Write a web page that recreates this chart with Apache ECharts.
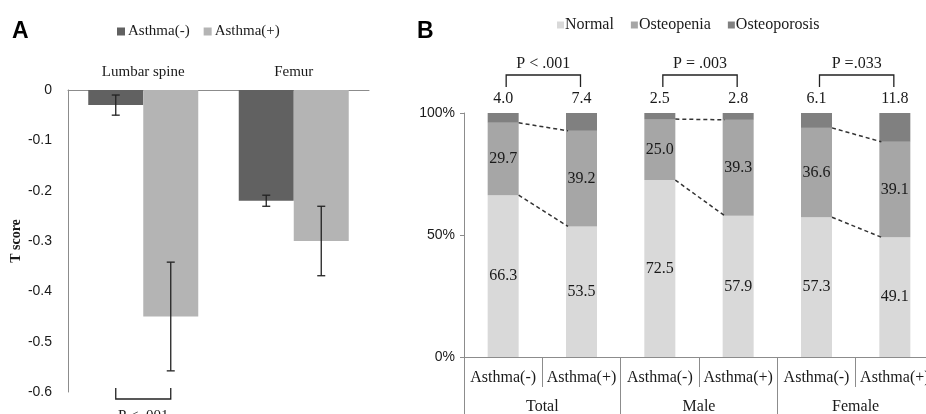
<!DOCTYPE html>
<html>
<head>
<meta charset="utf-8">
<script src="https://cdn.jsdelivr.net/npm/echarts@6/dist/echarts.min.js"></script>
<style>
  html, body { margin: 0; padding: 0; background: #fff; }
  #main { width: 926px; height: 414px; }
</style>
</head>
<body>
<div id="main"></div>
<script>
// ---- panel A: T score by site ----
const sites = ['Lumbar spine', 'Femur']
const tNeg = [-0.03, -0.22]
const tPos = [-0.45, -0.30]
const errNeg = [0.02, 0.011]
const errPos = [0.108, 0.069]
const pSite = 'P < .001'

// ---- panel B: bone status (%) ----
const groups = ['Total', 'Male', 'Female']
const arms = ['Asthma(-)', 'Asthma(+)', 'Asthma(-)', 'Asthma(+)', 'Asthma(-)', 'Asthma(+)']
const normal = [66.3, 53.5, 72.5, 57.9, 57.3, 49.1]
const osteopenia = [29.7, 39.2, 25.0, 39.3, 36.6, 39.1]
const osteoporosis = [4.0, 7.4, 2.5, 2.8, 6.1, 11.8]
const pGroups = ['P < .001', 'P = .003', 'P =.033']

const SERIF = '"Liberation Serif", "DejaVu Serif", serif'
const SANS = '"Liberation Sans", Arial, sans-serif'
const AXIS = '#8c8c8c'
const TXT = '#1a1a1a'
const BAR_W_A = 55
const BAR_W_B = 31

// error bars: [cat, mean, err]
const errDataNeg = sites.map((s, i) => [i, tNeg[i], errNeg[i]])
const errDataPos = sites.map((s, i) => [i, tPos[i], errPos[i]])

function errRender (offset) {
  return function (params, api) {
    const hi = api.coord([api.value(0), api.value(1) + api.value(2)])
    const lo = api.coord([api.value(0), api.value(1) - api.value(2)])
    const x = hi[0] + offset
    const st = { stroke: '#222', lineWidth: 1.3 }
    return {
      type: 'group',
      children: [
        { type: 'line', shape: { x1: x, y1: hi[1], x2: x, y2: lo[1] }, style: st },
        { type: 'line', shape: { x1: x - 4, y1: hi[1], x2: x + 4, y2: hi[1] }, style: st },
        { type: 'line', shape: { x1: x - 4, y1: lo[1], x2: x + 4, y2: lo[1] }, style: st }
      ]
    }
  }
}

// dashed connectors between stacked bars: [catA, catB, levelA, levelB]
const connectors = []
groups.forEach((g, p) => {
  const a = 2 * p
  const b = 2 * p + 1
  connectors.push([a, b, normal[a] + osteopenia[a], normal[b] + osteopenia[b]])
  connectors.push([a, b, normal[a], normal[b]])
})
const brackets = groups.map((g, p) => [2 * p, 2 * p + 1, 100])

const myChart = echarts.init(document.getElementById('main'))
const option = {
  animation: false,
  backgroundColor: '#fff',
  graphic: [
    { type: 'text', left: 12, top: 20, style: { text: 'A', font: 'bold 23px ' + SANS, fill: '#000' } },
    { type: 'text', left: 417, top: 20, style: { text: 'B', font: 'bold 23px ' + SANS, fill: '#000' } }
  ],
  legend: [
    {
      data: ['Asthma(-)', 'Asthma(+)'],
      left: 112,
      top: 19,
      icon: 'rect',
      itemWidth: 8,
      itemHeight: 8,
      itemGap: 14,
      textStyle: { fontFamily: SERIF, fontSize: 15, color: TXT, padding: [0, 0, 0, -2] }
    },
    {
      data: ['Normal', 'Osteopenia', 'Osteoporosis'],
      left: 552,
      top: 12,
      icon: 'rect',
      itemWidth: 7,
      itemHeight: 7,
      itemGap: 17,
      textStyle: { fontFamily: SERIF, fontSize: 16, color: TXT, padding: [0, 0, 0, -4] }
    }
  ],
  grid: [
    { left: 68, top: 90, width: 301, height: 302, outerBoundsMode: 'none' },
    { left: 464, top: 113, width: 470, height: 244, outerBoundsMode: 'none' }
  ],
  xAxis: [
    {
      gridIndex: 0,
      type: 'category',
      position: 'top',
      data: sites,
      axisLine: { lineStyle: { color: AXIS } },
      axisTick: { show: false },
      axisLabel: { margin: 10, fontFamily: SERIF, fontSize: 15, color: TXT }
    },
    {
      gridIndex: 1,
      type: 'category',
      position: 'bottom',
      data: arms,
      axisLine: { show: true, lineStyle: { color: AXIS } },
      axisTick: { show: true, length: 30, interval: 0, alignWithLabel: false, lineStyle: { color: AXIS } },
      axisLabel: { interval: 0, margin: 13, fontFamily: SERIF, fontSize: 16, color: TXT }
    },
    {
      gridIndex: 1,
      type: 'category',
      position: 'bottom',
      offset: 0,
      data: groups,
      axisLine: { show: false },
      axisTick: { show: true, length: 62, interval: 0, alignWithLabel: false, lineStyle: { color: AXIS } },
      axisLabel: { interval: 0, margin: 42, fontFamily: SERIF, fontSize: 16, color: TXT }
    }
  ],
  yAxis: [
    {
      gridIndex: 0,
      type: 'value',
      min: -0.6,
      max: 0,
      interval: 0.1,
      splitLine: { show: false },
      axisTick: { show: false },
      axisLine: { show: true, lineStyle: { color: AXIS } },
      axisLabel: {
        margin: 16,
        fontFamily: SANS,
        fontSize: 14,
        color: TXT,
        formatter: v => (Math.abs(v) < 1e-9 ? '0' : v.toFixed(1))
      },
      name: 'T score',
      nameLocation: 'middle',
      nameGap: 45,
      nameTextStyle: { fontFamily: SERIF, fontSize: 14, fontWeight: 'bold', color: TXT }
    },
    {
      gridIndex: 1,
      type: 'value',
      min: 0,
      max: 100,
      interval: 50,
      splitLine: { show: false },
      axisTick: { show: true, length: 4, lineStyle: { color: AXIS } },
      axisLine: { show: true, lineStyle: { color: AXIS } },
      axisLabel: { margin: 9, fontFamily: SANS, fontSize: 14, color: TXT, formatter: '{value}%' }
    }
  ],
  series: [
    {
      name: 'Asthma(-)',
      type: 'bar',
      xAxisIndex: 0,
      yAxisIndex: 0,
      barWidth: BAR_W_A,
      barGap: '0%',
      itemStyle: { color: '#616161' },
      data: tNeg
    },
    {
      name: 'Asthma(+)',
      type: 'bar',
      xAxisIndex: 0,
      yAxisIndex: 0,
      barWidth: BAR_W_A,
      barGap: '0%',
      itemStyle: { color: '#b4b4b4' },
      data: tPos
    },
    {
      type: 'custom',
      xAxisIndex: 0,
      yAxisIndex: 0,
      z: 5,
      encode: { x: 0, y: 1 },
      renderItem: errRender(-BAR_W_A / 2),
      data: errDataNeg
    },
    {
      type: 'custom',
      xAxisIndex: 0,
      yAxisIndex: 0,
      z: 5,
      encode: { x: 0, y: 1 },
      renderItem: errRender(BAR_W_A / 2),
      data: errDataPos
    },
    {
      // significance bracket under lumbar spine
      type: 'custom',
      xAxisIndex: 0,
      yAxisIndex: 0,
      z: 5,
      encode: { x: 0, y: 1 },
      renderItem: function (params, api) {
        const base = api.coord([api.value(0), -0.6])
        const x1 = base[0] - BAR_W_A / 2
        const x2 = base[0] + BAR_W_A / 2
        const st = { stroke: '#222', lineWidth: 1.3, fill: null }
        return {
          type: 'group',
          children: [
            { type: 'polyline', shape: { points: [[x1, base[1] - 4], [x1, base[1] + 7], [x2, base[1] + 7], [x2, base[1] - 4]] }, style: st },
            { type: 'text', style: { text: pSite, x: base[0], y: base[1] + 17, align: 'center', verticalAlign: 'top', font: '15px ' + SERIF, fill: TXT } }
          ]
        }
      },
      data: [[0, -0.6]]
    },
    {
      name: 'Normal',
      type: 'bar',
      stack: 'bone',
      xAxisIndex: 1,
      yAxisIndex: 1,
      barWidth: BAR_W_B,
      itemStyle: { color: '#d9d9d9' },
      label: { show: true, position: 'inside', fontFamily: SERIF, fontSize: 16, color: TXT, formatter: p => p.value.toFixed(1) },
      data: normal
    },
    {
      name: 'Osteopenia',
      type: 'bar',
      stack: 'bone',
      xAxisIndex: 1,
      yAxisIndex: 1,
      barWidth: BAR_W_B,
      itemStyle: { color: '#a6a6a6' },
      label: { show: true, position: 'inside', fontFamily: SERIF, fontSize: 16, color: TXT, formatter: p => p.value.toFixed(1) },
      data: osteopenia
    },
    {
      name: 'Osteoporosis',
      type: 'bar',
      stack: 'bone',
      xAxisIndex: 1,
      yAxisIndex: 1,
      barWidth: BAR_W_B,
      itemStyle: { color: '#808080' },
      label: { show: true, position: 'top', distance: 6, fontFamily: SERIF, fontSize: 16, color: TXT, formatter: p => p.value.toFixed(1) },
      data: osteoporosis
    },
    {
      // dashed connectors
      type: 'custom',
      xAxisIndex: 1,
      yAxisIndex: 1,
      z: 5,
      encode: { x: 0, y: 2 },
      renderItem: function (params, api) {
        const p1 = api.coord([api.value(0), api.value(2)])
        const p2 = api.coord([api.value(1), api.value(3)])
        return {
          type: 'line',
          shape: { x1: p1[0] + BAR_W_B / 2, y1: p1[1], x2: p2[0] - BAR_W_B / 2 + 2, y2: p2[1] },
          style: { stroke: '#333', lineWidth: 1.5, lineDash: [4, 3] }
        }
      },
      data: connectors
    },
    {
      // P-value brackets
      type: 'custom',
      xAxisIndex: 1,
      yAxisIndex: 1,
      z: 5,
      encode: { x: 0, y: 2 },
      renderItem: function (params, api) {
        const a = api.coord([api.value(0), api.value(2)])
        const b = api.coord([api.value(1), api.value(2)])
        const x1 = a[0] + 3
        const x2 = b[0] - 1
        const top = a[1] - 38
        const st = { stroke: '#222', lineWidth: 1.3, fill: null }
        return {
          type: 'group',
          children: [
            { type: 'polyline', shape: { points: [[x1, a[1] - 26], [x1, top], [x2, top], [x2, a[1] - 26]] }, style: st },
            { type: 'text', style: { text: pGroups[params.dataIndex], x: (x1 + x2) / 2, y: top - 11, align: 'center', verticalAlign: 'middle', font: '16px ' + SERIF, fill: TXT } }
          ]
        }
      },
      data: brackets
    }
  ]
}
myChart.setOption(option)
</script>
</body>
</html>
